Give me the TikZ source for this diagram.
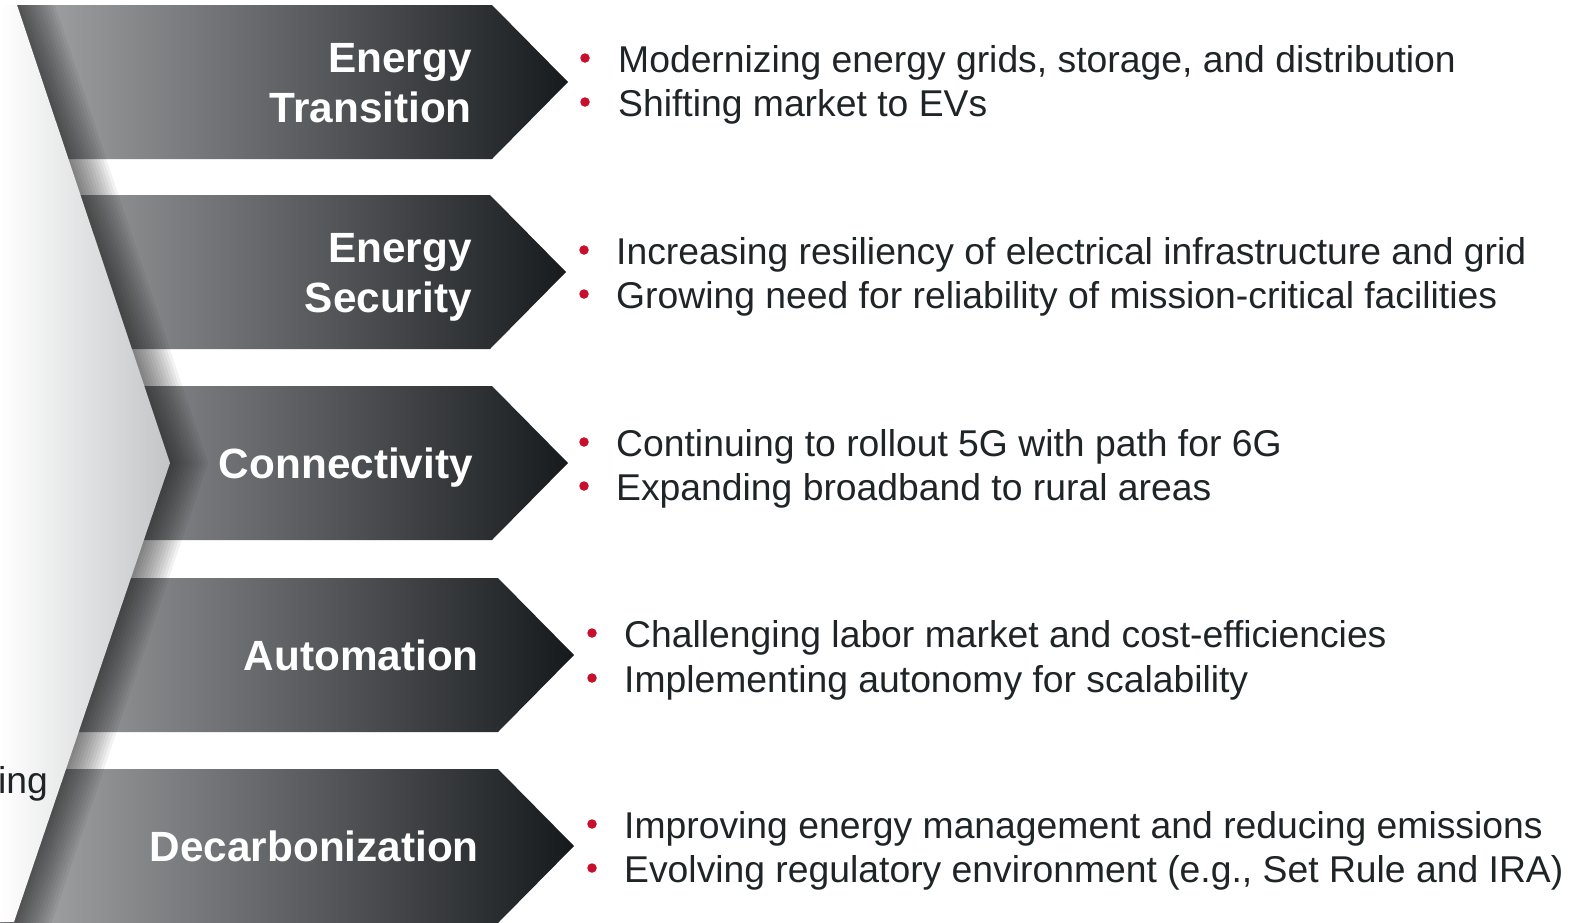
\documentclass[tikz,border=0pt]{standalone}
\usepackage{fontspec}
\setmainfont{Liberation Sans}
\definecolor{bulletred}{HTML}{C8102E}
\definecolor{txtcol}{HTML}{1F2427}
\definecolor{arrowlight}{HTML}{A8AAAC}
\definecolor{arrowdark}{HTML}{16191C}
\definecolor{chevgray}{HTML}{C3C4C6}
\begin{document}
\begin{tikzpicture}[x=1pt,y=-1pt,
  lbl/.style={font=\fontsize{42.3}{50}\selectfont\bfseries, text=white, anchor=base east, inner sep=0pt},
  btxt/.style={font=\fontsize{37.3}{44}\selectfont, text=txtcol, anchor=base west, inner sep=0pt},
  bdot/.style={circle, fill=bulletred, minimum size=9.5pt, inner sep=0pt}]
\useasboundingbox (0,0) rectangle (1588,922);
\fill[white] (0,0) rectangle (1588,922);
% chevron edge
\coordinate (c0) at (8.6,-20);
\coordinate (c1) at (17,5);
\coordinate (c2) at (170,463);
\coordinate (c3) at (14,922);
\coordinate (c4) at (4.5,950);
% arrows (one shading across all)
\shade[left color=arrowlight, right color=arrowdark]
  (0,5) -- (492,5) -- (568,82) -- (492,159) -- (0,159) -- cycle
  (0,195) -- (490,195) -- (566,272) -- (490,349) -- (0,349) -- cycle
  (0,386) -- (492,386) -- (568,463) -- (492,540) -- (0,540) -- cycle
  (0,578) -- (498,578) -- (574,655) -- (498,732) -- (0,732) -- cycle
  (0,769) -- (498,769) -- (574,846) -- (498,923) -- (0,923) -- cycle;
% shadow of the big chevron
\begin{scope}
  \clip (0,5) rectangle (1588,922);
  \foreach \w in {6,12,...,72}
    \draw[black, opacity=0.05, line width=\w pt, line join=miter] (c0) -- (c1) -- (c2) -- (c3) -- (c4);
\end{scope}
% big chevron
\shade[left color=white, right color=chevgray]
  (0,5) -- (c1) -- (c2) -- (c3) -- (0,922) -- cycle;
% labels
\node[lbl] (l1a) at (472,72) {Energy};
\node[lbl] (l1b) at (472,122) {Transition};
\node[lbl] (l2a) at (472,262) {Energy};
\node[lbl] (l2b) at (472,312) {Security};
\node[lbl] (l3) at (473,478) {Connectivity};
\node[lbl] (l4) at (479,670) {Automation};
\node[lbl] (l5) at (479,861) {Decarbonization};
% bullets
\node[bdot] (d1a) at (585,58) {};
\node[btxt] (t1a) at (618,72) {Modernizing energy grids, storage, and distribution};
\node[bdot] (d1b) at (585,102) {};
\node[btxt] (t1b) at (618,116) {Shifting market to EVs};
\node[bdot] (d2a) at (584,250) {};
\node[btxt] (t2a) at (616,264) {Increasing resiliency of electrical infrastructure and grid};
\node[bdot] (d2b) at (584,294) {};
\node[btxt] (t2b) at (616,308) {Growing need for reliability of mission-critical facilities};
\node[bdot] (d3a) at (584,442) {};
\node[btxt] (t3a) at (616,456) {Continuing to rollout 5G with path for 6G};
\node[bdot] (d3b) at (584,486) {};
\node[btxt] (t3b) at (616,500) {Expanding broadband to rural areas};
\node[bdot] (d4a) at (592,633) {};
\node[btxt] (t4a) at (624,647) {Challenging labor market and cost-efficiencies};
\node[bdot] (d4b) at (592,678) {};
\node[btxt] (t4b) at (624,692) {Implementing autonomy for scalability};
\node[bdot] (d5a) at (592,824) {};
\node[btxt] (t5a) at (624,838) {Improving energy management and reducing emissions};
\node[bdot] (d5b) at (592,868) {};
\node[btxt] (t5b) at (624,882) {Evolving regulatory environment (e.g., Set Rule and IRA)};
% cut-off text at left edge
\node[btxt] (ing) at (-2,793) {ing};
\end{tikzpicture}
\end{document}
